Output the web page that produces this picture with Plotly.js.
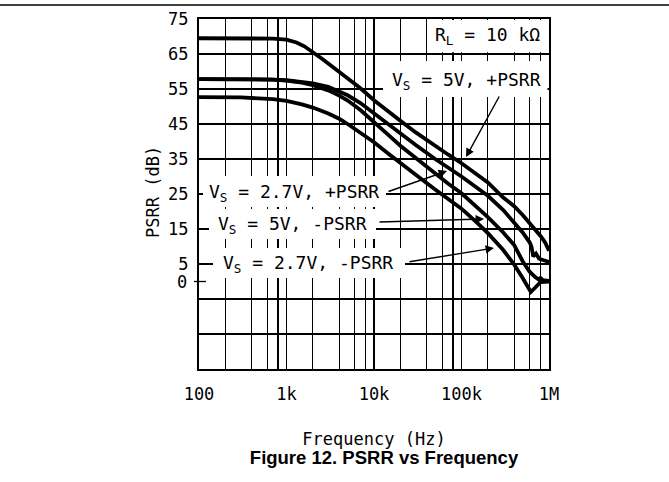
<!DOCTYPE html>
<html>
<head>
<meta charset="utf-8">
<script src="https://cdn.plot.ly/plotly-3.0.1.min.js"></script>
<style>html,body{margin:0;padding:0;background:#fff;}</style>
</head>
<body>
<div id="chart" style="width:669px;height:482px;"></div>
<script>
// ---- data ----
const freq5VPos = [100,200,400,700,1000,1300,1600,2000,2500,3000,4000,5000,7000,10000,15000,20000,30000,50000,70000,100000,150000,200000,300000,400000,500000,600000,700000,800000,900000,1000000];
const psrr5VPos = [69.5,69.5,69.5,69.4,69.1,68.3,67.2,65.6,63.8,62.3,59.9,58.0,55.2,51.8,48.2,45.9,42.6,38.7,36.3,33.8,30.7,28.3,24.0,21.5,19.0,16.8,14.8,13.0,11.2,8.8];

const freq27VPos = [100,300,700,1000,1500,2000,3000,4000,5000,7000,10000,15000,20000,30000,50000,70000,100000,150000,200000,300000,400000,500000,600000,630000,660000,710000,770000,850000,1000000];
const psrr27VPos = [57.8,57.8,57.7,57.5,57.1,56.6,55.6,54.4,53.2,51.0,48.0,44.6,42.3,39.0,35.0,32.6,30.0,26.8,24.5,20.4,17.0,14.0,11.2,10.0,7.2,8.0,6.5,6.1,5.6];

const freq5VNeg = [100,300,700,1000,1500,2000,3000,4000,5000,7000,10000,15000,20000,30000,50000,70000,100000,150000,200000,300000,400000,500000,600000,700000,760000,800000,850000,1000000];
const psrr5VNeg = [57.8,57.8,57.7,57.4,56.8,56.1,54.6,53.1,51.7,49.0,45.7,41.6,38.8,35.2,30.8,28.0,25.2,21.2,18.4,14.0,10.4,5.8,2.8,1.2,0.6,1.0,0.4,0.2];

const freq27VNeg = [100,300,700,1000,1500,2000,3000,4000,5000,7000,10000,15000,20000,30000,50000,70000,100000,150000,200000,300000,400000,500000,560000,600000,620000,680000,750000,800000,1000000];
const psrr27VNeg = [52.7,52.6,52.1,51.6,50.6,49.7,48.0,46.5,45.0,42.5,39.8,36.3,34.0,30.5,26.3,23.6,20.8,16.8,13.8,9.0,4.8,1.0,-1.0,-2.6,-3.0,-2.0,-0.8,-0.2,0.0];

const xTickVals = [100,1000,10000,100000,1000000];
const xTickText = ['100','1k','10k','100k','1M'];
const xMinorGrid = [200,400,600,800,2000,4000,6000,8000,20000,40000,60000,80000,200000,400000,600000,800000];
const yTickVals = [5,15,25,35,45,55,65,75];
const yTickText = ['5','15','25','35','45','55','65','75'];
const yMinorGrid = [-25,-15,-5];

const seriesNames = ['V<sub>S</sub> = 5V, +PSRR','V<sub>S</sub> = 2.7V, +PSRR','V<sub>S</sub> = 5V, -PSRR','V<sub>S</sub> = 2.7V, -PSRR'];

// ---- layout helpers (pixel -> paper) ----
const L = 199, R = 549, T = 19, B = 369, W = R - L, H = B - T;
const px = x => (x - L) / W;
const py = y => (B - y) / H;

const MONO = 'DejaVu Sans Mono, monospace';
const lineStyle = {color: '#000', width: 3.8};

const traces = [
  {x: freq5VPos, y: psrr5VPos, name: seriesNames[0]},
  {x: freq27VPos, y: psrr27VPos, name: seriesNames[1]},
  {x: freq5VNeg, y: psrr5VNeg, name: seriesNames[2]},
  {x: freq27VNeg, y: psrr27VNeg, name: seriesNames[3]}
].map(t => Object.assign(t, {type: 'scatter', mode: 'lines', line: lineStyle, showlegend: false, hoverinfo: 'skip'}));

function rect(x0, y0, x1, y1) {
  return {type: 'rect', xref: 'paper', yref: 'paper', x0: px(x0), x1: px(x1), y0: py(y1), y1: py(y0),
          fillcolor: '#fff', line: {width: 0}, layer: 'above'};
}
function label(text, cx, cy) {
  return {text: text, xref: 'paper', yref: 'paper', x: px(cx), y: py(cy), xanchor: 'center', yanchor: 'middle',
          showarrow: false, font: {family: MONO, size: 18, color: '#000'}};
}
function arrow(tipX, tipY, tailX, tailY) {
  return {text: '', xref: 'paper', yref: 'paper', x: px(tipX), y: py(tipY), ax: tailX - tipX, ay: tailY - tipY,
          showarrow: true, arrowhead: 2, arrowsize: 1.2, arrowwidth: 1.4, arrowcolor: '#000', standoff: 0, startstandoff: 0};
}

const layout = {
  width: 669, height: 482,
  margin: {l: L, r: 669 - R, t: T, b: 482 - B, pad: 0},
  paper_bgcolor: '#fff', plot_bgcolor: '#fff',
  showlegend: false,
  font: {family: MONO, size: 17, color: '#000'},
  title: {text: '<b>Figure 12. PSRR vs Frequency</b>', font: {family: 'Liberation Sans, Arial, sans-serif', size: 18.5, color: '#000'},
          x: 384 / 669, xref: 'container', xanchor: 'center', y: 1 - 458 / 482, yref: 'container', yanchor: 'middle'},
  xaxis: {
    type: 'log', range: [2, 6], tickmode: 'array', tickvals: xTickVals, ticktext: xTickText,
    showgrid: true, gridcolor: '#000', gridwidth: 1.1, ticks: '', ticklabelstandoff: 9,
    minor: {tickmode: 'array', tickvals: xMinorGrid, showgrid: true, gridcolor: '#000', gridwidth: 1.1, ticks: ''},
    showline: true, mirror: true, linecolor: '#000', linewidth: 2, zeroline: false,
    tickfont: {family: MONO, size: 17, color: '#000'},
    title: {text: 'Frequency (Hz)', font: {family: MONO, size: 17, color: '#000'}, standoff: 30},
    automargin: false, fixedrange: true
  },
  yaxis: {
    range: [-25, 75], tickmode: 'array', tickvals: yTickVals, ticktext: yTickText,
    showgrid: true, gridcolor: '#000', gridwidth: 1.1, ticks: '', ticklabelstandoff: 5,
    minor: {tickmode: 'array', tickvals: yMinorGrid, showgrid: true, gridcolor: '#000', gridwidth: 1.1, ticks: ''},
    showline: true, mirror: true, linecolor: '#000', linewidth: 2, zeroline: false,
    tickfont: {family: MONO, size: 17, color: '#000'},
    automargin: false, fixedrange: true
  },
  shapes: [
    // rule across the top of the page
    {type: 'line', xref: 'paper', yref: 'paper', x0: px(0), x1: px(669), y0: py(5), y1: py(5), line: {color: '#000', width: 1.5}},
    // tick mark at 0 dB
    {type: 'line', xref: 'paper', yref: 'y', x0: px(194), x1: px(206), y0: 0, y1: 0, line: {color: '#000', width: 1.3}},
    // white label backgrounds
    rect(429, 20, 547.5, 52.3),
    rect(383, 61, 547.5, 97),
    rect(203, 176, 386, 207),
    rect(209, 209, 376, 239),
    rect(213, 248, 405, 278)
  ],
  annotations: [
    {text: 'PSRR (dB)', xref: 'paper', yref: 'paper', x: px(153), y: py(192), xanchor: 'center', yanchor: 'middle',
     textangle: -90, showarrow: false, font: {family: MONO, size: 17, color: '#000'}},
    {text: '0', xref: 'paper', yref: 'y', x: px(189), y: 0, xanchor: 'right', yanchor: 'middle', showarrow: false,
     font: {family: MONO, size: 17, color: '#000'}},
    label('R<sub>L</sub> = 10 kΩ', 487, 36),
    label(seriesNames[0], 466, 81),
    label(seriesNames[1], 294, 193),
    label(seriesNames[2], 292, 225),
    label(seriesNames[3], 308, 264),
    arrow(466, 157, 500, 95),
    arrow(447, 171, 387, 192),
    arrow(484, 219, 378, 222),
    arrow(494, 248, 408, 262)
  ]
};

Plotly.newPlot('chart', traces, layout, {staticPlot: true, displayModeBar: false});
</script>
</body>
</html>
